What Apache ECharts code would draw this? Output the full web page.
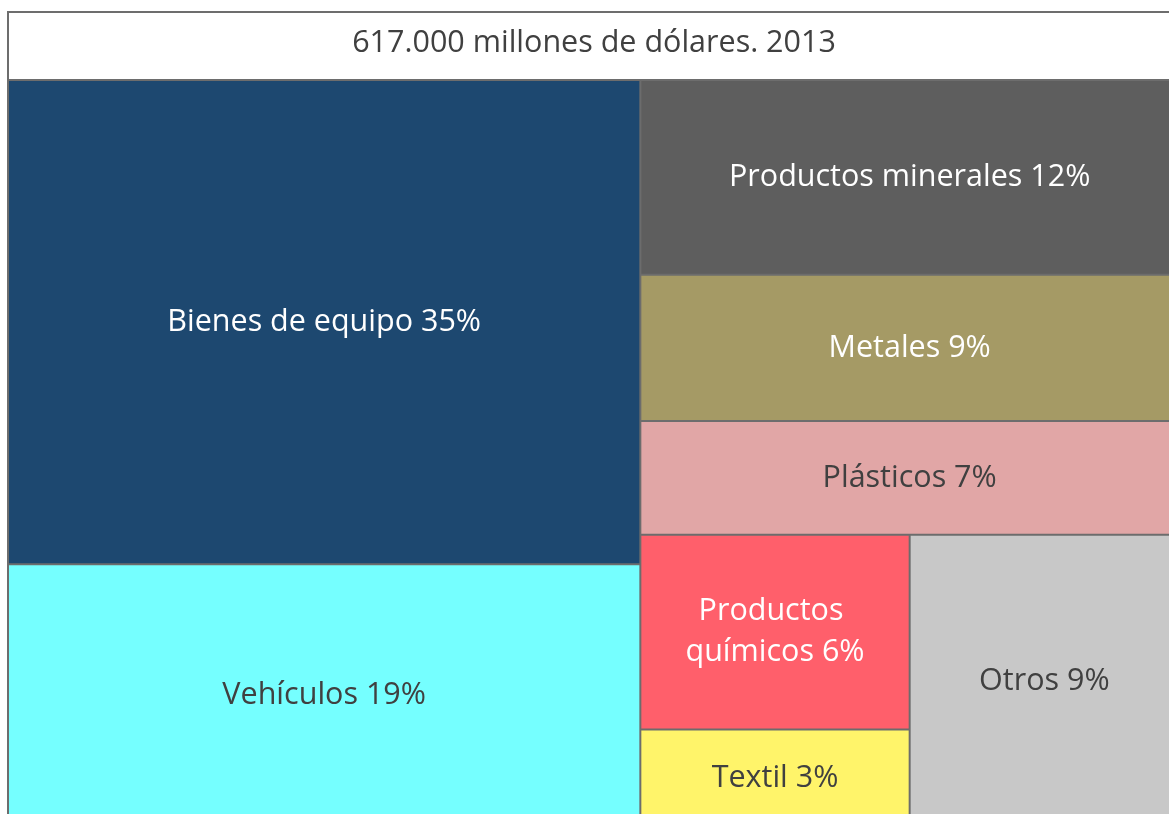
<!DOCTYPE html>
<html>
<head>
<meta charset="utf-8">
<title>Exportaciones 2013</title>
<script src="https://cdn.jsdelivr.net/npm/echarts@6/dist/echarts.min.js"></script>
<style>
    html, body { margin: 0; padding: 0; background: #fff; }
    #chart { width: 1169px; height: 814px; }
</style>
</head>
<body>
<div id="chart"></div>
<script>
// datos
const titleText = '617.000 millones de dólares. 2013'
const sectors = ['Bienes de equipo', 'Vehículos', 'Productos minerales', 'Metales',
                 'Plásticos', 'Productos químicos', 'Textil', 'Otros']
const shares = [35, 19, 12, 9, 7, 6, 3, 9]

// estilo de cada sector (mismo orden)
const fills = ['#1d4870', '#75ffff', '#5e5e5e', '#a59a65',
               '#e1a6a6', '#ff5f6b', '#fff46a', '#c8c8c8']
const textColors = ['#ffffff', '#404040', '#ffffff', '#ffffff',
                    '#404040', '#ffffff', '#404040', '#404040']

function leaf (i) {
    return {
        name: sectors[i],
        value: shares[i],
        itemStyle: { color: fills[i] },
        label: { color: textColors[i] }
    }
}
// grupos sin borde propio, solo sirven para ordenar los bloques
function group (children) {
    return { name: '', children: children, itemStyle: { borderWidth: 0 } }
}

const treeData = [
    leaf(0), leaf(1),
    group([group([leaf(2), leaf(3)]), leaf(4)]),
    leaf(5), leaf(6), leaf(7)
]

const myChart = echarts.init(document.getElementById('chart'))
const option = {
    animation: false,
    title: {
        text: titleText,
        left: 589,
        textAlign: 'center',
        top: 23,
        textStyle: { fontFamily: 'Open Sans', fontSize: 30.5, fontWeight: 'normal', color: '#404040' }
    },
    graphic: [{
        type: 'rect',
        z: 0,
        shape: { x: 8, y: 12, width: 1200, height: 68 },
        style: { fill: '#ffffff', stroke: '#6d6d6d', lineWidth: 2 }
    }],
    series: [{
        type: 'treemap',
        left: 7,
        top: 79,
        right: -11,
        bottom: -14,
        roam: false,
        nodeClick: false,
        sort: false,
        squareRatio: 2.13,
        breadcrumb: { show: false },
        itemStyle: { borderWidth: 1, borderColor: '#6d6d6d', gapWidth: 0 },
        label: {
            show: true,
            position: 'inside',
            align: 'center',
            verticalAlign: 'middle',
            overflow: 'break',
            fontFamily: 'Open Sans',
            fontSize: 30.5,
            lineHeight: 41,
            formatter: function (p) { return p.name + ' ' + p.value + '%' }
        },
        emphasis: { disabled: true },
        data: treeData
    }]
}
myChart.setOption(option)
</script>
</body>
</html>
